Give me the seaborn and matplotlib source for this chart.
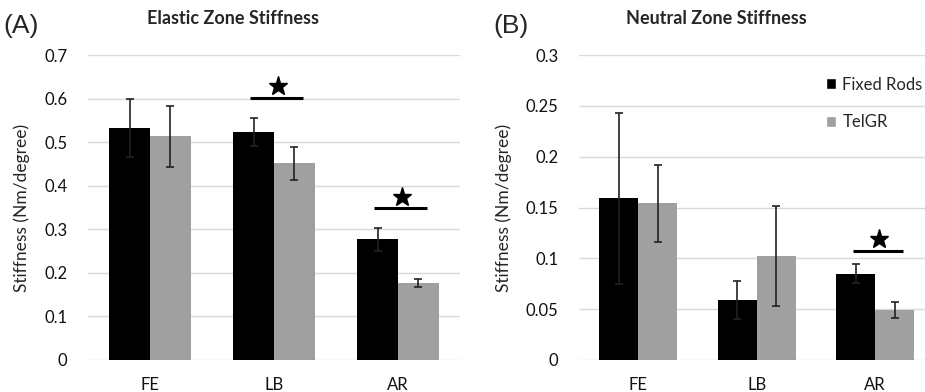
import numpy as np
import pandas as pd
import matplotlib
matplotlib.use('Agg')
import matplotlib.pyplot as plt
import seaborn as sns
from matplotlib.patches import Patch

categories = ['FE', 'LB', 'AR']
groups = ['Fixed Rods', 'TelGR']

elastic_fixed = [0.532, 0.524, 0.277]
elastic_telgr = [0.514, 0.451, 0.177]
elastic_fixed_err = [0.066, 0.032, 0.026]
elastic_telgr_err = [0.070, 0.038, 0.010]

neutral_fixed = [0.159, 0.059, 0.085]
neutral_telgr = [0.154, 0.102, 0.049]
neutral_fixed_err = [0.084, 0.019, 0.0095]
neutral_telgr_err = [0.038, 0.049, 0.008]

# significance markers: (category, bar height)
elastic_sig = [('LB', 0.602), ('AR', 0.348)]
neutral_sig = [('AR', 0.107)]

elastic_ticks = [0, 0.1, 0.2, 0.3, 0.4, 0.5, 0.6, 0.7]
neutral_ticks = [0, 0.05, 0.1, 0.15, 0.2, 0.25, 0.3]
neutral_ticklabels = ['0', '0.05', '0.1', '0.15', '0.2', '0.25', '0.3']

sns.set_style('white')
plt.rcParams['font.family'] = ['Lato', 'DejaVu Sans']

BLACK = '#000000'
GRAY = '#a0a0a0'
GRID = '#d9d9d9'

fig = plt.figure(figsize=(9.25, 3.92), dpi=100)
axA = fig.add_axes([88/925, 32/392, 372/925, 305/392])
axB = fig.add_axes([579/925, 32/392, 355.5/925, 305/392])


def draw(ax, fixed, telgr, ferr, terr, ticks, ticklabels, ymax, sig, star_off):
    df = pd.DataFrame({
        'cat': categories * 2,
        'group': [groups[0]] * 3 + [groups[1]] * 3,
        'val': list(fixed) + list(telgr),
    })
    sns.barplot(data=df, x='cat', y='val', hue='group', order=categories,
                hue_order=groups, palette={groups[0]: BLACK, groups[1]: GRAY},
                width=0.66, errorbar=None, ax=ax, legend=False, saturation=1,
                linewidth=0, edgecolor='none')
    for cont, vals, errs in zip(ax.containers, [fixed, telgr], [ferr, terr]):
        xs = [p.get_x() + p.get_width() / 2 for p in cont.patches]
        ax.errorbar(xs, vals, yerr=errs, fmt='none', ecolor='#222222',
                    elinewidth=1.2, capsize=3, capthick=1.2, zorder=4)
    ax.set_ylim(0, ymax)
    ax.set_xlim(-0.5, 2.5)
    ax.set_yticks(ticks)
    ax.set_yticklabels(ticklabels)
    ax.yaxis.grid(True, color=GRID, lw=1)
    ax.set_axisbelow(True)
    for s in ax.spines.values():
        s.set_visible(False)
    ax.tick_params(axis='both', length=0, labelsize=12, colors='#111111')
    ax.tick_params(axis='y', pad=15)
    ax.tick_params(axis='x', pad=12)
    ax.set_xlabel('')
    ax.set_ylabel('Stiffness (Nm/degree)', fontsize=12.5, labelpad=10)
    for cat, h in sig:
        i = categories.index(cat)
        ax.plot([i - 0.19, i + 0.23], [h, h], color=BLACK, lw=2.2, solid_capstyle='butt', zorder=5)
        ax.plot([i + 0.03], [h + star_off], marker='*', color=BLACK, markersize=14, zorder=5)


draw(axA, elastic_fixed, elastic_telgr, elastic_fixed_err, elastic_telgr_err,
     elastic_ticks, [str(t) for t in elastic_ticks], 0.7, elastic_sig, 0.027)
draw(axB, neutral_fixed, neutral_telgr, neutral_fixed_err, neutral_telgr_err,
     neutral_ticks, neutral_ticklabels, 0.3, neutral_sig, 0.0118)

fig.text(233/925, 1 - 19/392, 'Elastic Zone Stiffness', ha='center', va='center',
         fontsize=13, fontweight='bold')
fig.text(716/925, 1 - 19/392, 'Neutral Zone Stiffness', ha='center', va='center',
         fontsize=13, fontweight='bold')
fig.text(3/925, 1 - 26/392, '(A)', ha='left', va='center', fontsize=19,
         family='Liberation Sans')
fig.text(493/925, 1 - 26/392, '(B)', ha='left', va='center', fontsize=19,
         family='Liberation Sans')

handles = [Patch(facecolor=BLACK, label=groups[0]), Patch(facecolor=GRAY, label=groups[1])]
fig.legend(handles=handles, loc='upper left', bbox_to_anchor=(819/925, 1 - 70/392),
           frameon=False, fontsize=12, handlelength=0.6, handleheight=0.6,
           handletextpad=0.4, labelspacing=1.3, borderaxespad=0)

fig.savefig('out.png', dpi=100)
